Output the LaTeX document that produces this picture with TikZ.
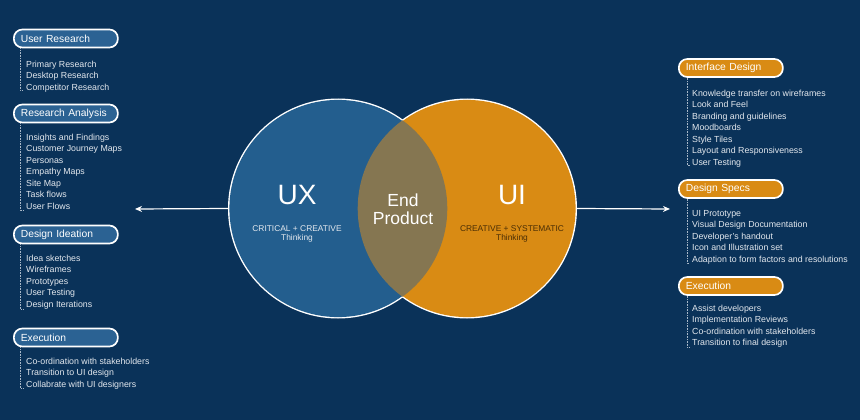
\documentclass[tikz,border=0pt]{standalone}
\usepackage{fontspec}
\setmainfont{Liberation Sans}
\usetikzlibrary{arrows.meta}
\definecolor{bgc}{HTML}{0A3259}
\definecolor{uxc}{HTML}{235E8E}
\definecolor{uic}{HTML}{D98B14}
\definecolor{lensc}{HTML}{857651}
\definecolor{lboxc}{HTML}{2B6293}
\definecolor{itemc}{HTML}{E3E8EE}
\definecolor{linec}{HTML}{A9B8C8}
\definecolor{uisub}{HTML}{4A2E05}
\begin{document}
\begin{tikzpicture}[x=1pt,y=-1pt,
  pill/.style={draw=white, line width=1.7pt, rounded corners=8.5pt, minimum height=18pt,
    text width=90pt, inner xsep=7pt, inner ysep=0pt, align=left, anchor=west,
    text=white, font=\fontsize{10.3}{12}\selectfont},
  lpill/.style={pill, fill=lboxc},
  rpill/.style={pill, fill=uic},
  item/.style={anchor=base west, inner sep=0pt, text=itemc, font=\fontsize{8.8}{10}\selectfont},
  guide/.style={draw=linec, line width=0.6pt, densely dotted},
  arr/.style={draw=white, line width=1.2pt, -{Stealth[length=7pt,width=6pt]}},
  bigt/.style={text=white, font=\fontsize{28}{30}\selectfont, inner sep=0pt},
  subt/.style={font=\fontsize{8.4}{8.6}\selectfont, align=center, inner sep=0pt}
]
\useasboundingbox (0,0) rectangle (860,420);
\fill[bgc] (0,0) rectangle (860,420);

% Venn circles
\fill[white] (338,208.5) circle (110pt);
\fill[white] (467,208.5) circle (110pt);
\fill[uxc] (338,208.5) circle (108.6pt);
\fill[uic] (467,208.5) circle (108.6pt);
\begin{scope}
  \clip (338,208.5) circle (109.3pt);
  \fill[lensc] (467,208.5) circle (109.3pt);
\end{scope}
\node[circle, minimum size=220pt, inner sep=0pt] (ux) at (338,208.5) {};
\node[circle, minimum size=220pt, inner sep=0pt] (ui) at (467,208.5) {};

\node[bigt] (uxt) at (297,195.5) {UX};
\node[subt, text=itemc] (uxs) at (297,234) {CRITICAL + CREATIVE\\Thinking};
\node[bigt] (uit) at (512,195.5) {UI};
\node[subt, text=uisub] (uis) at (512,234) {CREATIVE + SYSTEMATIC\\Thinking};
\node[text=white, font=\fontsize{17.5}{18}\selectfont, align=center, inner sep=0pt] (ep) at (403,209) {End\\Product};

% arrows
\coordinate (larr) at (135,209);
\coordinate (rarr) at (670,209);
\draw[arr] (ux.west) -- (larr);
\draw[arr] (ui.east) -- (rarr);

% Left groups
\node[lpill] (b1) at (13,38.5) {User Research};
\foreach \t [count=\i] in {Primary Research, Desktop Research, Competitor Research}
  \node[item] (b1-\i) at (26,{52.5+11.5*\i+3.2}) {\t};
\coordinate (e1) at (20,90);
\draw[guide] (b1.south west -| e1) -- (e1) -- ++(3,0);

\node[lpill] (b2) at (13,113.5) {Research Analysis};
\foreach \t [count=\i] in {Insights and Findings, Customer Journey Maps, Personas, Empathy Maps, Site Map, Task flows, User Flows}
  \node[item] (b2-\i) at (26,{125.5+11.5*\i+3.2}) {\t};
\coordinate (e2) at (20,210);
\draw[guide] (b2.south west -| e2) -- (e2) -- ++(3,0);

\node[lpill] (b3) at (13,234.5) {Design Ideation};
\foreach \t [count=\i] in {Idea sketches, Wireframes, Prototypes, User Testing, Design Iterations}
  \node[item] (b3-\i) at (26,{246.5+11.5*\i+3.2}) {\t};
\coordinate (e3) at (20,309);
\draw[guide] (b3.south west -| e3) -- (e3) -- ++(3,0);

\node[lpill] (b4) at (13,337.5) {Execution};
\foreach \t [count=\i] in {Co-ordination with stakeholders, Transition to UI design, Collabrate with UI designers}
  \node[item] (b4-\i) at (26,{349.5+11.5*\i+3.2}) {\t};
\coordinate (e4) at (20,388);
\draw[guide] (b4.south west -| e4) -- (e4) -- ++(3,0);

% Right groups
\node[rpill] (c1) at (678,68) {Interface Design};
\foreach \t [count=\i] in {Knowledge transfer on wireframes, Look and Feel, Branding and guidelines, Moodboards, Style Tiles, Layout and Responsiveness, User Testing}
  \node[item] (c1-\i) at (692,{81.5+11.5*\i+3.2}) {\t};
\coordinate (f1) at (687,165);
\draw[guide] (c1.south west -| f1) -- (f1) -- ++(3,0);

\node[rpill] (c2) at (678,189) {Design Specs};
\foreach \t [count=\i] in {UI Prototype, Visual Design Documentation, Developer’s handout, Icon and Illustration set, Adaption to form factors and resolutions}
  \node[item] (c2-\i) at (692,{201.5+11.5*\i+3.2}) {\t};
\coordinate (f2) at (687,263);
\draw[guide] (c2.south west -| f2) -- (f2) -- ++(3,0);

\node[rpill] (c3) at (678,286) {Execution};
\foreach \t [count=\i] in {Assist developers, Implementation Reviews, Co-ordination with stakeholders, Transition to final design}
  \node[item] (c3-\i) at (692,{296.5+11.5*\i+3.2}) {\t};
\coordinate (f3) at (687,347);
\draw[guide] (c3.south west -| f3) -- (f3) -- ++(3,0);
\end{tikzpicture}
\end{document}
